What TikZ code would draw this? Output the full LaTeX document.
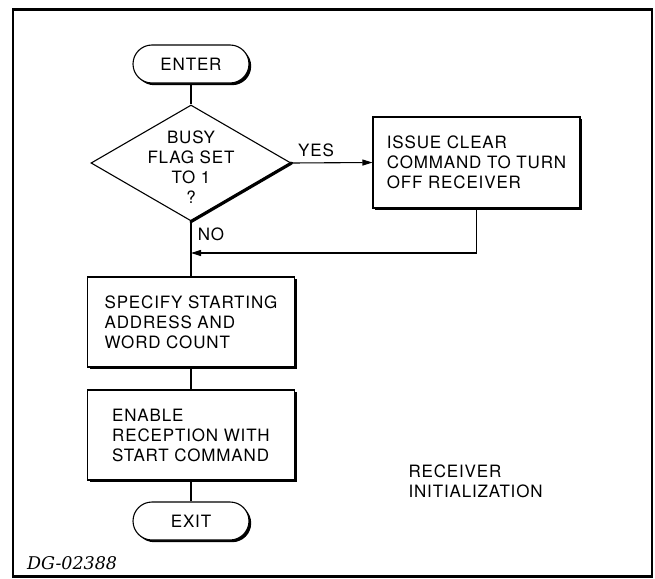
\documentclass[tikz,border=0pt]{standalone}
\usepackage{fontspec}
\setmainfont{TeX Gyre Heros}[LetterSpace=5]
\newfontfamily\dgfont{DejaVu Serif}
\usetikzlibrary{shapes.geometric,arrows.meta,shadows}
\begin{document}
\begin{tikzpicture}[x=1pt,y=-1pt,
  every node/.style={font=\fontsize{17}{20}\selectfont},
  line/.style={line width=1.1pt},
  shad/.style={drop shadow={shadow xshift=2.2pt, shadow yshift=-2.2pt, opacity=1, fill=black}},
  proc/.style={draw, line width=1.1pt, fill=white, minimum width=207pt, minimum height=90pt, align=left, inner sep=0pt, shad},
  term/.style={draw, line width=1.1pt, fill=white, rounded corners=19pt, minimum width=116pt, minimum height=38pt, inner sep=0pt, shad},
  arr/.style={-{Triangle[length=10pt,width=6pt]}}
]
\useasboundingbox (0,0) rectangle (655,578);
\draw[line width=2.6pt] (13,9.5) rectangle (652,576.5);
\node[term] (enter) at (191,64) {ENTER};
\node[diamond, draw, line width=1.1pt, minimum width=200pt, minimum height=116pt, inner sep=0pt] (dec) at (191,163) {};
\node[align=center] (dectext) at (191,167) {BUSY\\FLAG SET\\TO 1\\?};
\draw[line width=3.2pt, line cap=round] (dec.east) -- (dec.south);
\node[proc, minimum height=91pt] (issue) at (476.5,162.5) {ISSUE CLEAR\\COMMAND TO TURN\\OFF RECEIVER};
\node (yes) at (316,150) {YES};
\node (no) at (211,234) {NO};
\node[proc] (spec) at (191,322) {SPECIFY STARTING\\ADDRESS AND\\WORD COUNT};
\node[proc] (enable) at (191,435) {ENABLE\\RECEPTION WITH\\START COMMAND};
\node[term] (exit) at (191,521) {EXIT};
\node[align=left, anchor=west] (title) at (405,481) {RECEIVER\\INITIALIZATION};
\node[anchor=west, inner sep=0pt, font=\dgfont\itshape\fontsize{17.5}{20}\selectfont] (dg) at (27,563) {DG-02388};
\coordinate (merge) at (191,253);
\draw[line] (enter) -- (dec);
\draw[line,arr] (dec.east) -- (issue.west);
\draw[line,arr] (issue.south) |- (merge);
\draw[line] (dec.south) -- (spec.north);
\draw[line] (spec) -- (enable);
\draw[line] (enable) -- (exit);
\end{tikzpicture}
\end{document}
